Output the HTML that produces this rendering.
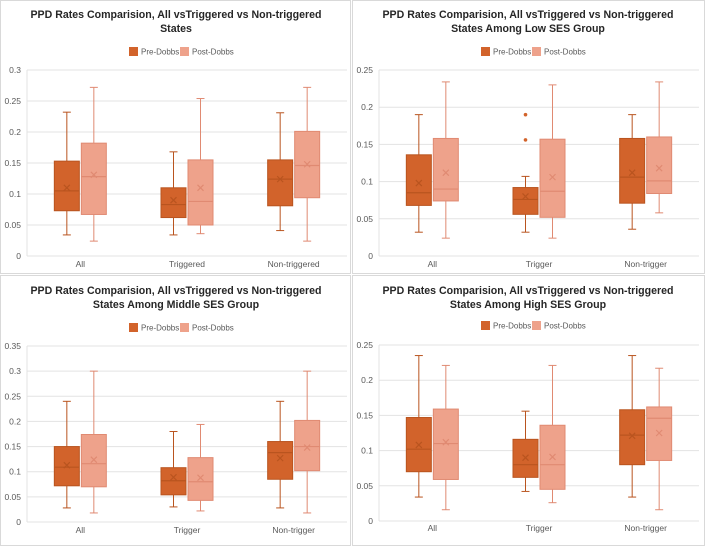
<!DOCTYPE html>
<html><head><meta charset="utf-8"><style>
html,body{margin:0;padding:0;background:#fff;}
svg{display:block;font-family:"Liberation Sans",sans-serif;}
</style></head><body>
<svg id="c" width="705" height="546" viewBox="0 0 705 546"></svg>
<script>
// data: each entry [min, q1, median, q3, max, mean]
const p1Cats = ["All","Triggered","Non-triggered"];
const p1Pre  = [[0.034,0.073,0.105,0.153,0.232,0.110],[0.034,0.062,0.083,0.110,0.168,0.090],[0.041,0.081,0.124,0.155,0.231,0.124]];
const p1Post = [[0.024,0.067,0.128,0.182,0.272,0.131],[0.036,0.050,0.088,0.155,0.254,0.110],[0.024,0.094,0.146,0.201,0.272,0.148]];
const p2Cats = ["All","Trigger","Non-trigger"];
const p2Pre  = [[0.032,0.068,0.085,0.136,0.190,0.098],[0.032,0.056,0.076,0.092,0.107,0.080],[0.036,0.071,0.106,0.158,0.190,0.112]];
const p2Post = [[0.024,0.074,0.090,0.158,0.234,0.112],[0.024,0.052,0.087,0.157,0.230,0.106],[0.058,0.084,0.101,0.160,0.234,0.118]];
const p2PreOutliers = [[],[0.190,0.156],[]];
const p3Cats = ["All","Trigger","Non-trigger"];
const p3Pre  = [[0.028,0.072,0.109,0.150,0.240,0.113],[0.030,0.054,0.082,0.108,0.180,0.089],[0.028,0.085,0.138,0.160,0.240,0.127]];
const p3Post = [[0.018,0.070,0.116,0.174,0.300,0.124],[0.022,0.043,0.080,0.128,0.194,0.088],[0.018,0.102,0.150,0.202,0.300,0.148]];
const p4Cats = ["All","Trigger","Non-trigger"];
const p4Pre  = [[0.034,0.070,0.102,0.147,0.235,0.108],[0.042,0.062,0.080,0.116,0.156,0.090],[0.034,0.080,0.122,0.158,0.235,0.121]];
const p4Post = [[0.016,0.059,0.110,0.159,0.221,0.112],[0.026,0.045,0.080,0.136,0.221,0.091],[0.016,0.086,0.146,0.162,0.217,0.125]];
const p1Ticks = ["0","0.05","0.1","0.15","0.2","0.25","0.3"];
const p2Ticks = ["0","0.05","0.1","0.15","0.2","0.25"];
const p3Ticks = ["0","0.05","0.1","0.15","0.2","0.25","0.3","0.35"];
const p4Ticks = ["0","0.05","0.1","0.15","0.2","0.25"];

const NS="http://www.w3.org/2000/svg";
const svg=document.getElementById('c');
function mk(tag,attrs,parent){const e=document.createElementNS(NS,tag);for(const k in attrs)e.setAttribute(k,attrs[k]);(parent||svg).appendChild(e);return e;}

const panels=[
 {name:"overall",x:0,y:0,w:351,h:274,title:["PPD Rates Comparision, All vsTriggered vs Non-triggered","States"],cats:p1Cats,pre:p1Pre,post:p1Post,out:null,ticks:p1Ticks,top:70,zero:256,leg:51,xl:267},
 {name:"low-ses",x:352,y:0,w:353,h:274,title:["PPD Rates Comparision, All vsTriggered vs Non-triggered","States Among Low SES Group"],cats:p2Cats,pre:p2Pre,post:p2Post,out:p2PreOutliers,ticks:p2Ticks,top:70,zero:256,leg:51,xl:267},
 {name:"middle-ses",x:0,y:275,w:351,h:271,title:["PPD Rates Comparision, All vsTriggered vs Non-triggered","States Among Middle SES Group"],cats:p3Cats,pre:p3Pre,post:p3Post,out:null,ticks:p3Ticks,top:346,zero:522,leg:327,xl:533},
 {name:"high-ses",x:352,y:275,w:353,h:271,title:["PPD Rates Comparision, All vsTriggered vs Non-triggered","States Among High SES Group"],cats:p4Cats,pre:p4Pre,post:p4Post,out:null,ticks:p4Ticks,top:345,zero:521,leg:325,xl:531}
];
const preFill="#d2632b",preLine="#b9541f",postFill="#eea28b",postLine="#e08a72";

panels.forEach(p=>{
 const g=mk('g',{});
 
 
 const bg=mk('rect',{x:p.x+0.5,y:p.y+0.5,width:p.w-1,height:p.h-1,fill:"#fff",stroke:"#d9d9d9"},g);
 
 
 const cx=p.x+176;
 p.title.forEach((t,i)=>{
  const tt=mk('text',{x:cx,y:(p.y===0?18:p.y+19)+i*14,"text-anchor":"middle","font-size":"10.6","font-weight":"bold",fill:"#262626"},g);
  tt.textContent=t;
  
  
 });
 const lg=mk('g',{},g);
 
 
 mk('rect',{x:p.x+129,y:p.leg-4,width:9,height:9,fill:preFill},lg);
 const l1=mk('text',{x:p.x+141,y:p.leg+3.5,"font-size":"8",fill:"#595959"},lg);l1.textContent="Pre-Dobbs";
 
 
 mk('rect',{x:p.x+180,y:p.leg-4,width:9,height:9,fill:postFill},lg);
 const l2=mk('text',{x:p.x+192,y:p.leg+3.5,"font-size":"8",fill:"#595959"},lg);l2.textContent="Post-Dobbs";
 
 
 const maxV=parseFloat(p.ticks[p.ticks.length-1]);
 const ys=v=>p.zero-(v/maxV)*(p.zero-p.top);
 const x0=p.x+27,x1=p.x+347;
 p.ticks.forEach(t=>{
  const v=parseFloat(t),y=ys(v);
  const gl=mk('line',{x1:x0,x2:x1,y1:y,y2:y,stroke:"#e3e3e3","stroke-width":1},g);
  
  
  const tl=mk('text',{x:p.x+21,y:y+3,"text-anchor":"end","font-size":"8.5",fill:"#595959"},g);
  tl.textContent=t;
  
  
 });
 mk('line',{x1:x0,x2:x0,y1:p.top,y2:p.zero,stroke:"#e3e3e3"},g);
 const band=(x1-x0)/p.cats.length;
 const xs=i=>x0+band*(i+0.5);
 const bw=25;
 function box(d,cxp,fill,line,nm){
  const b=mk('g',{},g);
  
  
  mk('line',{x1:cxp,x2:cxp,y1:ys(d[4]),y2:ys(d[3]),stroke:line},b);
  mk('line',{x1:cxp,x2:cxp,y1:ys(d[1]),y2:ys(d[0]),stroke:line},b);
  mk('line',{x1:cxp-4,x2:cxp+4,y1:ys(d[4]),y2:ys(d[4]),stroke:line},b);
  mk('line',{x1:cxp-4,x2:cxp+4,y1:ys(d[0]),y2:ys(d[0]),stroke:line},b);
  mk('rect',{x:cxp-bw/2,y:ys(d[3]),width:bw,height:ys(d[1])-ys(d[3]),fill:fill,stroke:line,"stroke-width":1},b);
  mk('line',{x1:cxp-bw/2,x2:cxp+bw/2,y1:ys(d[2]),y2:ys(d[2]),stroke:line,"stroke-width":1.2},b);
  const my=ys(d[5]);
  mk('path',{d:`M${cxp-3},${my-3}L${cxp+3},${my+3}M${cxp+3},${my-3}L${cxp-3},${my+3}`,stroke:line,"stroke-width":1.2},b);
 }
 p.cats.forEach((c,i)=>{
  const cc=xs(i);
  box(p.pre[i],cc-13.5,preFill,preLine,'box-pre-'+i);
  box(p.post[i],cc+13.5,postFill,postLine,'box-post-'+i);
  if(p.out){p.out[i].forEach(v=>{
   const o=mk('circle',{cx:cc-13.5,cy:ys(v),r:1.8,fill:preFill},g);
   
   
  });}
  const xl=mk('text',{x:cc,y:p.xl,"text-anchor":"middle","font-size":"8.5",fill:"#595959"},g);
  xl.textContent=c;
  
  
 });
});
</script>
</body></html>
